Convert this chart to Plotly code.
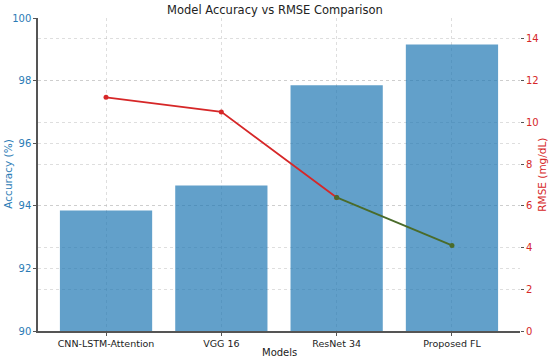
import plotly.graph_objects as go

models = ["CNN-LSTM-Attention", "VGG 16", "ResNet 34", "Proposed FL"]
accuracy = [93.85, 94.65, 97.85, 99.15]
rmse = [11.2, 10.5, 6.4, 4.1]
acc_ticks = [90, 92, 94, 96, 98, 100]
rmse_ticks = [0, 2, 4, 6, 8, 10, 12, 14]

FONT = "DejaVu Sans"
BLUE = "#2b7bb5"
RED = "#d62728"
GREEN = "#4a6b2a"
GRID = "rgba(190,190,190,0.5)"

fig = go.Figure()
fig.add_trace(go.Bar(
    x=models, y=[a - 90 for a in accuracy], base=90, width=0.8,
    marker=dict(color="rgba(31,119,180,0.7)", line=dict(width=0)),
    yaxis="y", showlegend=False, hoverinfo="skip",
))
fig.add_trace(go.Scatter(
    x=models[:3], y=rmse[:3], mode="lines+markers",
    line=dict(color=RED, width=1.8), marker=dict(color=RED, size=5),
    yaxis="y2", showlegend=False, hoverinfo="skip",
))
fig.add_trace(go.Scatter(
    x=models[2:], y=rmse[2:], mode="lines+markers",
    line=dict(color=GREEN, width=1.8), marker=dict(color=GREEN, size=5),
    yaxis="y2", showlegend=False, hoverinfo="skip",
))

fig.update_layout(
    width=550, height=361,
    margin=dict(l=38, r=30, t=18, b=30, autoexpand=False),
    paper_bgcolor="white", plot_bgcolor="white",
    font=dict(family=FONT, size=10, color="#222"),
    title=dict(text="Model Accuracy vs RMSE Comparison", x=0.5, xanchor="center",
               y=0.972, yanchor="middle", font=dict(size=11.5, color="#222")),
    xaxis=dict(
        range=[-0.59, 3.59], showgrid=True, gridcolor=GRID, griddash="dot", gridwidth=1,
        showline=True, linecolor="#555", linewidth=1.5, ticks="outside", ticklen=3,
        tickcolor="#555", tickfont=dict(size=9.5, color="#222"), automargin=False,
    ),
    yaxis=dict(
        range=[90, 100], tickvals=acc_ticks, showgrid=True, gridcolor=GRID, griddash="dot",
        showline=True, linecolor="#555", linewidth=1.5, ticks="outside", ticklen=3,
        tickcolor="#555", tickfont=dict(size=10, color=BLUE), zeroline=False, automargin=False,
    ),
    yaxis2=dict(
        range=[0, 15], tickvals=rmse_ticks, overlaying="y", side="right",
        showgrid=True, gridcolor=GRID, griddash="dot", showline=False, zeroline=False,
        ticks="outside", ticklen=3, tickcolor="#555", tickfont=dict(size=10, color=RED),
        automargin=False,
    ),
    annotations=[
        dict(text="Accuracy (%)", xref="paper", yref="paper", x=-0.064, y=0.5,
             xanchor="center", yanchor="middle", textangle=-90, showarrow=False,
             font=dict(size=10.5, color=BLUE)),
        dict(text="RMSE (mg/dL)", xref="paper", yref="paper", x=1.044, y=0.5,
             xanchor="center", yanchor="middle", textangle=-90, showarrow=False,
             font=dict(size=10.5, color=RED)),
        dict(text="Models", xref="paper", yref="paper", x=0.5, y=-0.068,
             xanchor="center", yanchor="middle", showarrow=False,
             font=dict(size=10, color="#222")),
    ],
)

fig.write_html("out.html", config={"displayModeBar": False},
               post_script="document.body.style.margin='0';document.body.style.overflow='hidden';")
